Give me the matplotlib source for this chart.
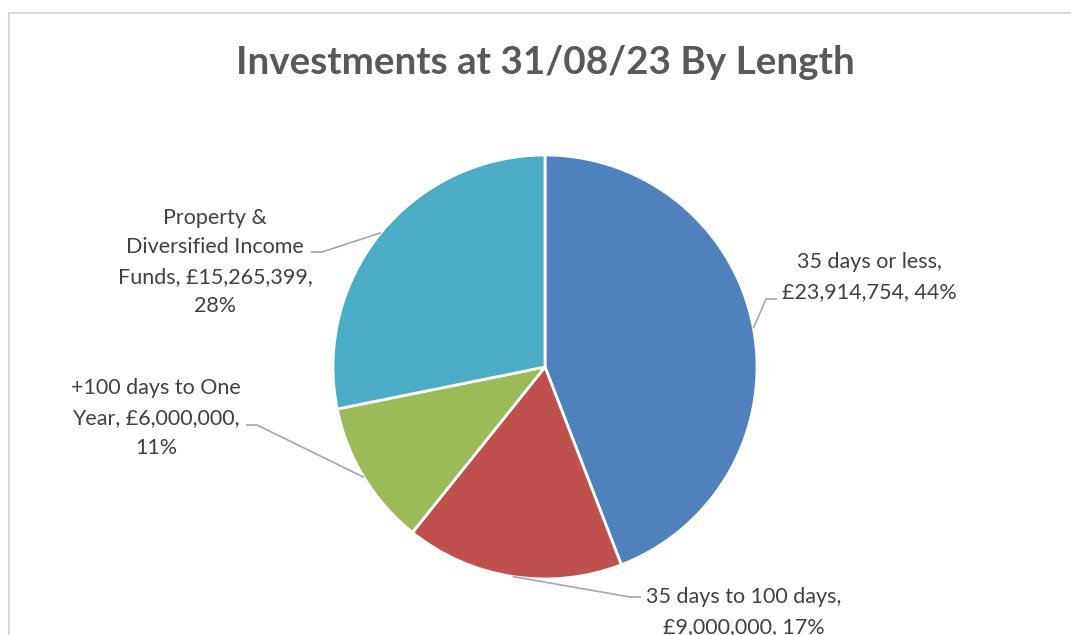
import matplotlib.pyplot as plt
import matplotlib.patches as mpatches
import numpy as np

# data
categories = ['35 days or less', '35 days to 100 days',
              '+100 days to One Year', 'Property & Diversified Income Funds']
values = [23914754, 9000000, 6000000, 15265399]
colors = ['#4F81BD', '#C0504D', '#9BBB59', '#4BACC6']

# label text (wrapped like the original) and where it sits, in pixels
label_lines = [
    ['35 days or less,', '£{v}, {p}%'],
    ['35 days to 100 days,', '£{v}, {p}%'],
    ['+100 days to One', 'Year, £{v},', '{p}%'],
    ['Property &', 'Diversified Income', 'Funds, £{v},', '{p}%'],
]
label_pos = [(869, 277), (744, 612), (156, 418), (215, 262)]
elbow_pos = [(766, 299), (630, 597), (257, 425), (322, 252)]
elbow_side = [1, 1, -1, -1]

W, H = 1071, 635
cx, cy, R = 545, 367, 212

def to_data(px, py):
    return (px - cx) / R, (cy - py) / R

fig = plt.figure(figsize=(W / 100, H / 100), dpi=100)
fig.patches.append(mpatches.Rectangle((9 / W, -0.1), 1.2, 1 - 13 / H + 0.1,
                                      transform=fig.transFigure, fill=False,
                                      edgecolor='#D9D9D9', linewidth=1.5))
ax = fig.add_axes([0, 0, 1, 1])

wedges, _ = ax.pie(values, colors=colors, startangle=90, counterclock=False,
                   radius=1, wedgeprops=dict(edgecolor='white', linewidth=2))
ax.set_xlim(-cx / R, (W - cx) / R)
ax.set_ylim(-(H - cy) / R, cy / R)
ax.set_aspect('auto')
ax.axis('off')

total = sum(values)
for i, w in enumerate(wedges):
    mid = np.deg2rad((w.theta1 + w.theta2) / 2)
    x0, y0 = np.cos(mid), np.sin(mid)
    ex, ey = to_data(*elbow_pos[i])
    hx = ex + elbow_side[i] * 11 / R
    ax.plot([x0, ex, hx], [y0, ey, ey], color='#A6A6A6', lw=1.2,
            solid_capstyle='butt')
    pct = round(values[i] / total * 100)
    txt = '\n'.join(l.format(v=f'{values[i]:,}', p=pct) for l in label_lines[i])
    lx, ly = to_data(*label_pos[i])
    ax.text(lx, ly, txt, ha='center', va='center', fontsize=15.5,
            family='Lato', color='#404040', linespacing=1.6)

fig.text(545 / W, 1 - 62 / H, 'Investments at 31/08/23 By Length',
         ha='center', va='center', fontsize=27.8, fontweight='bold',
         family='Lato', color='#595959')

plt.savefig('out.png', dpi=100)
